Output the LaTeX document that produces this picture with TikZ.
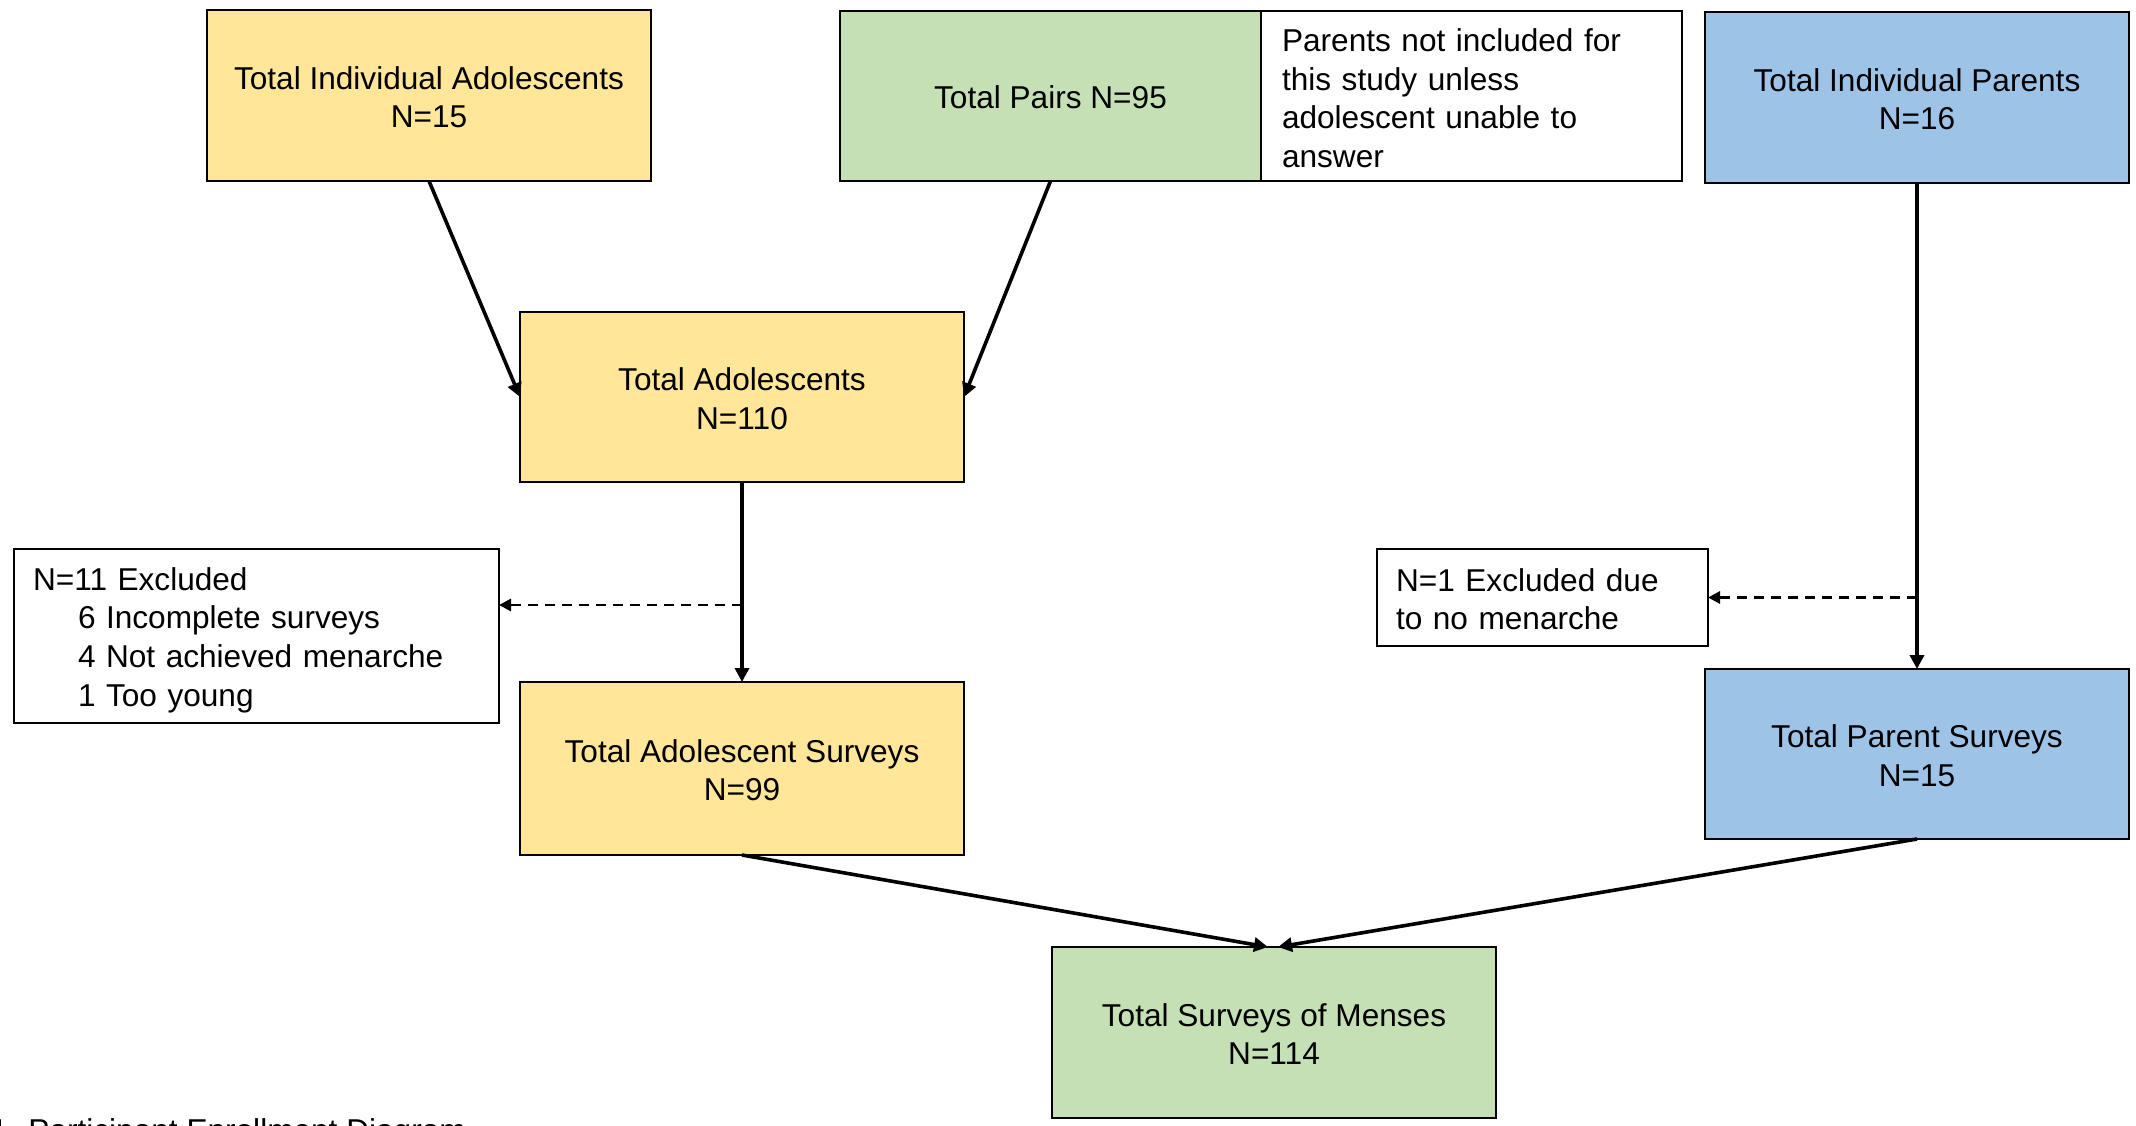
\documentclass[tikz,border=0pt]{standalone}
\usepackage{fontspec}
\setmainfont{Liberation Sans}
\usetikzlibrary{arrows.meta,calc}
\definecolor{yfill}{HTML}{FFE699}
\definecolor{gfill}{HTML}{C5E0B4}
\definecolor{bfill}{HTML}{9DC3E6}
\tikzset{
  box/.style={draw=black, line width=1.3pt, inner sep=0pt, outer sep=0pt, anchor=north west, align=center,
    font=\fontsize{15.8pt}{19.3pt}\selectfont},
  ybox/.style={box, fill=yfill},
  gbox/.style={box, fill=gfill},
  bbox/.style={box, fill=bfill},
  wbox/.style={box, fill=white, align=left},
  conn/.style={line width=1.8pt, -{Triangle[length=7pt,width=7pt]}},
  dconn/.style={line width=1.4pt, dash pattern=on 5pt off 3.5pt, -{Triangle[length=6pt,width=6pt]}},
}
\begin{document}
\begin{tikzpicture}[x=0.5pt,y=-0.5pt]
\useasboundingbox (0,0) rectangle (2136,1125);
\node[ybox, minimum width=222pt, minimum height=85.5pt] (tia) at (207,10) {\rule{0pt}{13pt}Total Individual Adolescents\\N=15};
\node[gbox, minimum width=210.5pt, minimum height=85pt] (pairs) at (840,11) {\rule{0pt}{13pt}Total Pairs N=95};
\node[wbox, minimum width=210.5pt, minimum height=85pt, inner xsep=10.5pt, text width=189.5pt] (note) at (1261,11) {\rule{0pt}{13.5pt}Parents not included for\\this study unless\\adolescent unable to\\answer};
\node[bbox, minimum width=212pt, minimum height=85.5pt] (pip) at (1705,12) {\rule{0pt}{13pt}Total Individual Parents\\N=16};
\node[ybox, minimum width=222pt, minimum height=85pt] (ta) at (520,312) {\rule{0pt}{13pt}Total Adolescents\\N=110};
\node[wbox, minimum width=242.5pt, minimum height=87pt, inner xsep=9.5pt, text width=223.5pt] (excl) at (14,549) {\rule{0pt}{15.5pt}N=11 Excluded\\\hspace*{22.5pt}6 Incomplete surveys\\\hspace*{22.5pt}4 Not achieved menarche\\\hspace*{22.5pt}1 Too young};
\node[ybox, minimum width=222pt, minimum height=86.5pt] (tas) at (520,682) {\rule{0pt}{13pt}Total Adolescent Surveys\\N=99};
\node[wbox, minimum width=165.5pt, minimum height=48.5pt, inner xsep=9.5pt, text width=146.5pt] (ex1) at (1377,549) {\rule{0pt}{13pt}N=1 Excluded due\\to no menarche};
\node[bbox, minimum width=212pt, minimum height=85pt] (tps) at (1705,669) {\rule{0pt}{13pt}Total Parent Surveys\\N=15};
\node[gbox, minimum width=222pt, minimum height=85.5pt] (men) at (1052,947) {\rule{0pt}{13pt}Total Surveys of Menses\\N=114};
\node[anchor=north west, inner sep=0pt, font=\fontsize{15.8pt}{19.3pt}\selectfont] (cap) at (-10,1118) {1. Participant Enrollment Diagram};
% connectors
\draw[conn] (tia.south) -- (ta.west);
\draw[conn] (pairs.south) -- (ta.east);
\draw[conn] (pip.south) -- (tps.north);
\draw[conn] (ta.south) -- (tas.north);
\coordinate (ml) at ($(men.north)+(-6,0)$);
\coordinate (mr) at ($(men.north)+(4,0)$);
\draw[conn] (tas.south) -- (ml);
\draw[conn] (tps.south) -- (mr);
\coordinate (d1) at (ta.south |- 0,605);
\draw[dconn] (d1) -- (excl.east |- d1);
\coordinate (d2) at (pip.south |- ex1.east);
\draw[dconn] (d2) -- (ex1.east);
\end{tikzpicture}
\end{document}
